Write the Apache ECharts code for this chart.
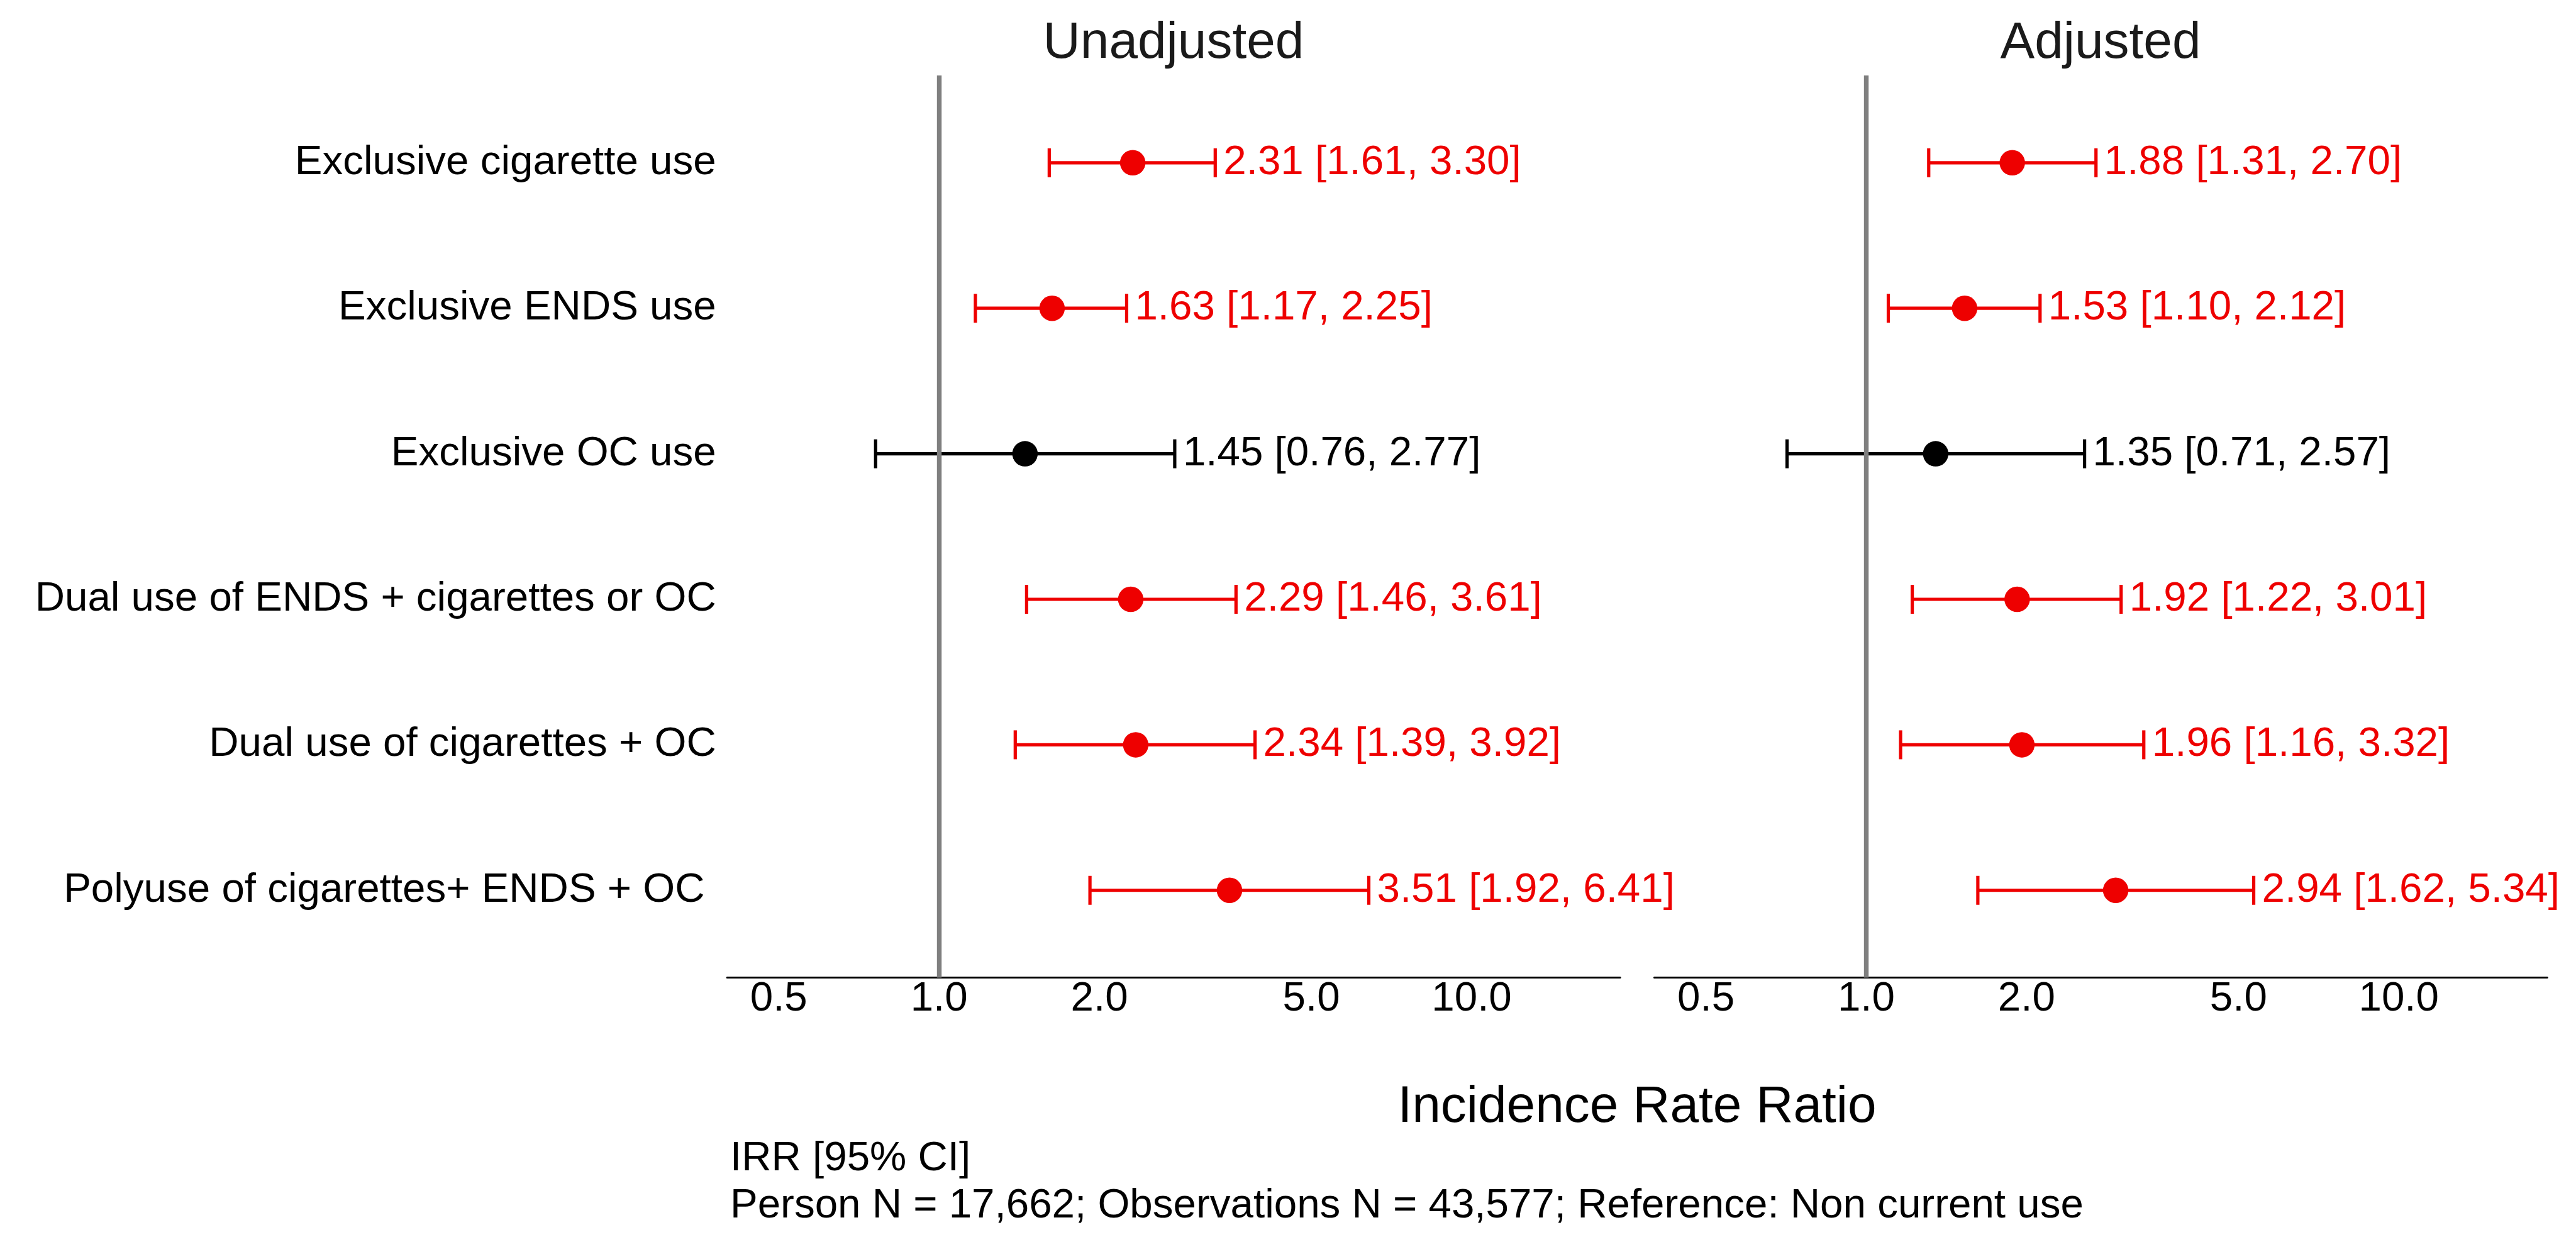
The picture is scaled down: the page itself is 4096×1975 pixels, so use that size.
<!DOCTYPE html>
<html>
<head>
<meta charset="utf-8">
<script src="https://cdn.jsdelivr.net/npm/echarts@6/dist/echarts.min.js"></script>
<style>
html, body { margin: 0; padding: 0; background: #ffffff; }
#chart { width: 4096px; height: 1975px; }
</style>
</head>
<body>
<div id="chart"></div>
<script>
// ---- data ----
const categories = [
  'Exclusive cigarette use',
  'Exclusive ENDS use',
  'Exclusive OC use',
  'Dual use of ENDS + cigarettes or OC',
  'Dual use of cigarettes + OC',
  'Polyuse of cigarettes+ ENDS + OC '
];
const unadjEst = [2.31, 1.63, 1.45, 2.29, 2.34, 3.51];
const unadjLow = [1.61, 1.17, 0.76, 1.46, 1.39, 1.92];
const unadjHigh = [3.30, 2.25, 2.77, 3.61, 3.92, 6.41];
const adjEst = [1.88, 1.53, 1.35, 1.92, 1.96, 2.94];
const adjLow = [1.31, 1.10, 0.71, 1.22, 1.16, 1.62];
const adjHigh = [2.70, 2.12, 2.57, 3.01, 3.32, 5.34];
const tickValues = [0.5, 1.0, 2.0, 5.0, 10.0];
const panelTitles = ['Unadjusted', 'Adjusted'];
const xTitle = 'Incidence Rate Ratio';
const footLines = ['IRR [95% CI]', 'Person N = 17,662; Observations N = 43,577; Reference: Non current use'];
const xMinVal = 0.4, xMaxVal = 19;

// ---- style ----
const FONT = '"Liberation Sans", Arial, sans-serif';
const RED = '#EE0000', BLACK = '#000000';
const FS = 65.5, FS_BIG = 82;
const grids = [
  { left: 1156.2, width: 1419.9, top: 120, height: 1434.6 },
  { left: 2630.5, width: 1419.8, top: 120, height: 1434.6 }
];
const L = Math.log10;

function buildBars(est, lo, hi) {
  return est.map((e, i) => ({
    value: [L(lo[i]), L(hi[i]), i + 1, e, lo[i], hi[i]],
    itemStyle: { color: lo[i] < 1 ? BLACK : RED }
  }));
}
function buildPoints(est, lo) {
  return est.map((e, i) => ({
    value: [L(e), i + 1],
    itemStyle: { color: lo[i] < 1 ? BLACK : RED, opacity: 1 }
  }));
}

function renderBar(params, api) {
  const y = api.value(2);
  const p1 = api.coord([api.value(0), y]);
  const p2 = api.coord([api.value(1), y]);
  const color = api.visual('color');
  const cap = 23, lw = 5.2;
  const txt = api.value(3).toFixed(2) + ' [' + api.value(4).toFixed(2) + ', ' + api.value(5).toFixed(2) + ']';
  return {
    type: 'group',
    children: [
      { type: 'line', shape: { x1: p1[0], y1: p1[1], x2: p2[0], y2: p2[1] }, style: { stroke: color, lineWidth: lw } },
      { type: 'line', shape: { x1: p1[0], y1: p1[1] - cap, x2: p1[0], y2: p1[1] + cap }, style: { stroke: color, lineWidth: lw } },
      { type: 'line', shape: { x1: p2[0], y1: p2[1] - cap, x2: p2[0], y2: p2[1] + cap }, style: { stroke: color, lineWidth: lw } },
      { type: 'text', x: p2[0] + 13, y: p2[1], style: { text: txt, fill: color, fontSize: FS, fontFamily: FONT, align: 'left', verticalAlign: 'middle' } }
    ]
  };
}

const xAxes = [0, 1].map(g => ({
  type: 'value', gridIndex: g, min: L(xMinVal), max: L(xMaxVal),
  axisLine: { show: true, lineStyle: { color: '#000', width: 3 } },
  axisTick: { show: false },
  splitLine: { show: false },
  axisLabel: {
    customValues: tickValues.map(v => L(v)),
    formatter: v => Math.pow(10, v).toFixed(1),
    fontSize: FS, fontFamily: FONT, color: '#000', margin: 1
  }
}));
const yAxes = [0, 1].map(g => ({
  type: 'value', gridIndex: g, inverse: true, min: 0.4, max: 6.6,
  axisLine: { show: false }, axisTick: { show: false }, splitLine: { show: false },
  axisLabel: g === 0 ? {
    customValues: categories.map((c, i) => i + 1),
    formatter: v => categories[Math.round(v) - 1],
    fontSize: FS, fontFamily: FONT, color: '#000', margin: 17.5
  } : { show: false }
}));

const series = [];
[[unadjEst, unadjLow, unadjHigh], [adjEst, adjLow, adjHigh]].forEach((d, g) => {
  series.push({
    type: 'scatter', xAxisIndex: g, yAxisIndex: g, data: [], z: 1, silent: true,
    markLine: {
      silent: true, symbol: ['none', 'none'], label: { show: false },
      lineStyle: { color: '#7F7F7F', width: 7.4, type: 'solid', opacity: 1 },
      emphasis: { disabled: true },
      data: [{ xAxis: 0 }], animation: false
    }
  });
  series.push({
    type: 'custom', xAxisIndex: g, yAxisIndex: g, z: 2, silent: true,
    encode: { x: [0, 1], y: 2 },
    renderItem: renderBar,
    data: buildBars(d[0], d[1], d[2])
  });
  series.push({
    type: 'scatter', xAxisIndex: g, yAxisIndex: g, z: 3, silent: true,
    symbol: 'circle', symbolSize: 40.5,
    itemStyle: { opacity: 1 },
    emphasis: { disabled: true },
    data: buildPoints(d[0], d[1])
  });
});

const graphics = [
  { type: 'text', x: 1866, y: 69, style: { text: panelTitles[0], fontSize: FS_BIG, fontFamily: FONT, fill: '#1A1A1A', align: 'center', verticalAlign: 'middle' } },
  { type: 'text', x: 3340, y: 69, style: { text: panelTitles[1], fontSize: FS_BIG, fontFamily: FONT, fill: '#1A1A1A', align: 'center', verticalAlign: 'middle' } },
  { type: 'text', x: 2603, y: 1761, style: { text: xTitle, fontSize: FS_BIG, fontFamily: FONT, fill: '#000', align: 'center', verticalAlign: 'middle' } },
  { type: 'text', x: 1161, y: 1843, style: { text: footLines[0], fontSize: FS, fontFamily: FONT, fill: '#000', align: 'left', verticalAlign: 'middle' } },
  { type: 'text', x: 1161, y: 1918, style: { text: footLines[1], fontSize: FS, fontFamily: FONT, fill: '#000', align: 'left', verticalAlign: 'middle' } }
];

const chart = echarts.init(document.getElementById('chart'));
chart.setOption({
  backgroundColor: '#ffffff',
  animation: false,
  grid: grids,
  xAxis: xAxes,
  yAxis: yAxes,
  series: series,
  graphic: graphics
});
</script>
</body>
</html>
